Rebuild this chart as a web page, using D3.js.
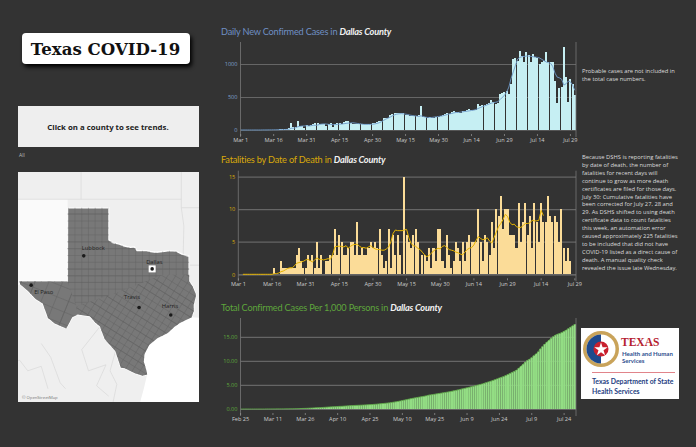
<!DOCTYPE html>
<html>
<head>
<meta charset="utf-8">
<title>Texas COVID-19</title>
<script src="https://cdn.jsdelivr.net/npm/d3@7"></script>
<style>
  html, body { margin: 0; background: #333; overflow: hidden; }
  text { font-family: "Open Sans", sans-serif; }
</style>
</head>
<body>
<svg id="chart" width="696" height="447"></svg>
<script>
// daily new cases, Mar 1 - Jul 31
const casesDaily = [
  0,0,0,0,0,0,0,0,1,1,1,2,2,3,3,4,5,6,8,10,12,20,35,100,40,45,135,55,65,25,70,
  60,70,85,100,105,95,90,95,55,90,100,50,95,110,100,90,125,130,130,100,95,90,85,85,85,85,85,85,95,100,
  105,115,130,140,175,180,180,225,245,250,250,250,250,250,225,225,215,210,205,215,220,365,195,190,185,200,185,185,195,200,205,
  225,245,255,240,270,285,280,275,265,285,290,300,320,300,300,305,390,360,375,385,400,410,450,430,395,410,540,560,570,585,
  550,700,1075,1090,1050,1200,1125,1025,1175,1135,1025,1150,1100,1090,1000,1025,1040,1185,1025,1035,1025,735,410,635,650,1260,800,425,775,700,535
];
const casesAvg = [
  0,0,0,0,0,0,0,0,0,0,1,1,1,2,2,3,3,4,5,6,7,9,12,25,28,33,50,55,60,62,65,
  62,65,72,70,75,85,90,92,90,85,85,80,82,85,90,90,95,100,105,105,110,105,100,95,90,85,85,85,85,88,
  92,100,110,125,145,165,180,195,215,230,240,245,248,245,240,235,225,220,215,210,205,215,205,195,190,190,190,195,200,205,210,
  215,225,235,245,250,260,265,265,270,275,280,285,290,295,300,310,325,340,355,365,380,395,405,415,420,430,460,495,525,575,
  650,780,880,980,1075,1100,1110,1115,1120,1120,1115,1110,1105,1100,1090,1070,1050,1030,1020,1010,960,860,800,790,770,680,700,740,730,680,600
];
const casesTicks = [0, 500, 1000];

// fatalities by date of death, Mar 1 - Jul 29
const deathsDaily = [
  0,0,0,0,0,0,0,0,0,0,0,0,0,0,0,0,1,0,0,2,1,1,1,1,1,1,3,4,2,1,1,
  3,2,3,1,5,1,3,0,2,2,3,3,7,3,6,5,3,3,4,5,5,3,8,3,4,3,3,4,5,4,
  5,4,7,3,1,2,7,1,6,3,6,3,0,15,6,5,4,6,7,5,0,3,3,2,4,1,4,2,7,7,2,
  1,6,3,1,2,5,4,2,5,2,5,6,5,5,5,10,5,2,6,5,3,8,4,10,9,12,7,10,10,6,
  6,6,4,11,5,8,11,6,9,4,11,8,5,11,8,8,12,9,8,9,8,5,10,4,2,4,2,0,0
];
const deathsAvg = [
  null,null,0,0,0,0,0,0,0,0,0,0,0,0,0,0,.1,.1,.2,.4,.5,.7,.9,1,1,1.3,1.7,1.8,1.9,2,2.2,
  2.3,2.1,1.9,2.2,2.5,2.3,2.3,2.2,2.3,2.4,2.3,3,4.2,4.3,4.3,4.3,4.2,4.4,4,4.3,4.5,4.6,4.6,4.3,4.1,4.1,4,4.2,4.4,4.1,
  3.9,3.8,3.8,3.7,3.7,3.9,4.2,5,6.3,6.8,6.7,6.7,6.7,6.8,6.9,5.6,4.7,4.4,4.3,4,3.8,3.4,3,2.7,2.9,3.2,3.6,3.8,4,3.9,4.3,
  4.4,4.1,3.8,3.7,3.6,3.4,3.3,3.1,3,3.4,3.8,4,4.1,4.5,5.2,5.8,5.5,5.3,5.4,5.6,5.1,4.8,5.6,6.5,7.3,7.8,8.4,9.2,8.9,8,
  7.6,7.7,7.3,7.2,7.2,7.5,7.8,7.8,7.9,8.3,8.2,8.2,8.3,9.8,9
];
const deathsTicks = [0, 5, 10, 15];

// total cases per 1,000 persons, Feb 25 - Jul 29
const totalPer1000 = [
  0,0,0,0,0,
  0,0,0,0,0,0,0,.01,.01,.01,.01,.01,.02,.02,.02,.02,.03,.03,.04,.04,.05,.06,.07,.1,.12,.13,.15,.18,.2,.22,.25,
  .27,.29,.32,.35,.38,.41,.44,.47,.49,.52,.55,.56,.6,.63,.66,.7,.72,.74,.76,.78,.8,.83,.85,.88,.9,.93,.97,1,1.05,1.1,
  1.14,1.18,1.23,1.28,1.35,1.42,1.49,1.57,1.66,1.76,1.85,1.95,2.05,2.14,2.23,2.32,2.4,2.48,2.56,2.64,2.72,2.86,2.93,3,3.07,3.15,3.22,3.29,3.37,3.44,3.52,
  3.6,3.69,3.79,3.88,3.98,4.09,4.2,4.3,4.4,4.51,4.62,4.73,4.85,4.97,5.08,5.2,5.35,5.49,5.63,5.78,5.93,6.09,6.26,6.45,6.6,6.76,6.97,7.18,7.4,7.62,
  7.83,8.1,8.5,8.92,9.3,9.75,10.1,10.35,10.7,11.1,11.45,11.9,12.5,13,13.5,13.9,14.3,14.7,15.05,15.35,15.55,15.7,15.9,16.15,16.4,16.7,17,17.3,17.6
];
const totalTicks = [0, 5, 10, 15];

// rough outline of the state and the places labelled on the map, lon/lat
const texasOutline = [
  [-106.62,32],[-103.06,32],[-103.04,36.5],[-100,36.5],[-100,34.56],[-99.7,34.4],[-99.2,34.3],[-98.9,34.2],[-98.4,34.1],
  [-98.1,34.13],[-97.9,33.9],[-97.2,33.9],[-96.9,33.85],[-96.5,33.8],[-96,33.85],[-95.5,33.9],[-95,33.87],[-94.5,33.65],
  [-94.04,33.55],[-94.04,32],[-93.8,31.7],[-93.55,31.2],[-93.55,31],[-93.7,30.5],[-93.7,30.1],[-93.85,29.7],[-94.7,29.35],
  [-95.1,29.1],[-95.6,28.7],[-96.4,28.35],[-97,27.9],[-97.35,27.3],[-97.4,26.8],[-97.2,26.2],[-97.15,25.96],[-97.5,25.87],
  [-98.1,26.05],[-98.8,26.37],[-99.1,26.4],[-99.5,27.5],[-100.3,28.3],[-100.65,29.1],[-101,29.37],[-101.4,29.77],[-102.3,29.88],
  [-102.7,29.7],[-103.15,28.98],[-104,29.3],[-104.5,29.65],[-104.9,30.6],[-105.4,30.85],[-106,31.4],[-106.53,31.78]
];
const gulfOutline = [
  [-93.85,29.7],[-94.7,29.35],[-95.1,29.1],[-95.6,28.7],[-96.4,28.35],[-97,27.9],[-97.35,27.3],[-97.4,26.8],[-97.2,26.2],
  [-97.15,25.96],[-97.4,25],[-97.7,24],[-88,24],[-88,29.75],[-92,29.6]
];
const newMexico = [[-103.04,37],[-103.04,32],[-106.62,32],[-106.53,31.78],[-109.6,31.4],[-109.6,37]];
const borderLines = [
  [[-109.6,37],[-94.62,37]],
  [[-102.05,37],[-102.05,40]],
  [[-94.62,40],[-94.62,36.5],[-94.43,35.4],[-94.48,33.64]],
  [[-94.04,33],[-91,33]],
  [[-94.62,36.5],[-91,36.5]],
  [[-105,28],[-104.3,27.1],[-103.6,25.4],[-103.2,25]],
  [[-109,27.1],[-107.8,26.6],[-106.6,26.9],[-106,26.2],[-105,26.5],[-104.5,25]],
  [[-100.65,29.1],[-102,27.6],[-101.5,26.2],[-100.2,26.6],[-100.9,25.2],[-100,24.5]],
  [[-99.5,27.5],[-99.9,26.2],[-99.4,25.3],[-99.7,24]]
];
const coastalCounties = [[-102.4,30.4],[-99,31.4],[-96,32.4],[-93,32.4],[-93,25],[-102.4,25]];
const transPecos = [[-107,32],[-103.06,32],[-102.4,30.4],[-102.4,28],[-107,28]];
const places = [
  { name: "Lubbock", lon: -101.85, lat: 33.58, dx: -2, dy: -5.5 },
  { name: "Dallas", lon: -96.78, lat: 32.77, dx: -6, dy: -5 },
  { name: "Travis", lon: -97.75, lat: 30.33, dx: -15, dy: -9 },
  { name: "Harris", lon: -95.4, lat: 29.85, dx: -9, dy: -7.5 },
  { name: "El Paso", lon: -105.75, lat: 31.75, dx: 3, dy: 9 }
];

const probableNote = ["Probable cases are not included in", "the total case numbers."];
const fatalityNote = [
  "Because DSHS is reporting fatalities",
  "by date of death, the number of",
  "fatalities for recent days will",
  "continue to grow as more death",
  "certificates are filed for those days.",
  "July 30: Cumulative fatalities have",
  "been corrected for July 27, 28 and",
  "29. As DSHS shifted to using death",
  "certificate data to count fatalities",
  "this week, an automation error",
  "caused approximately 225 fatalities",
  "to be included that did not have",
  "COVID-19 listed as a direct cause of",
  "death. A manual quality check",
  "revealed the issue late Wednesday."
];

const svg = d3.select('#chart');
const tickDay = d3.timeFormat('%b %-d');

// one bar panel; start is the first date, every 15th day gets a label
const drawPanel = (opts) => {
  const dates = opts.values.map((v, i) => d3.timeDay.offset(opts.start, i));
  const xScale = d3.scaleBand().domain(dates).range([opts.left, opts.right]).padding(opts.pad);
  const yScale = d3.scaleLinear().domain([0, opts.yMax]).range([opts.zero, opts.top]);
  const g = svg.append('g');

  g.append('text').attr('x', 221).attr('y', opts.titleY)
    .attr('font-size', 9.2).attr('letter-spacing', -0.2).attr('fill', opts.titleColor)
    .style('font-family', 'Lato, sans-serif')
    .text(opts.title)
    .append('tspan').attr('fill', '#f2f2f2').attr('font-weight', 700).attr('font-style', 'italic')
    .text('Dallas County');

  const yAxis = d3.axisLeft(yScale).tickValues(opts.ticks).tickFormat(d3.format(opts.fmt))
    .tickSize(-(opts.right - opts.axisX)).tickPadding(3);
  const yG = g.append('g').attr('transform', `translate(${opts.axisX},0)`).call(yAxis);
  yG.select('.domain').remove();
  yG.selectAll('line').attr('stroke', '#666').attr('stroke-width', 1.2);
  yG.selectAll('text').attr('fill', opts.tickColor).attr('font-size', 5.6).attr('font-family', '"Open Sans"');
  yG.selectAll('.tick').filter(d => d === 0).select('line').attr('stroke', opts.baseColor);

  g.selectAll('.bar').data(opts.values).enter().append('rect')
    .attr('x', (d, i) => xScale(dates[i]))
    .attr('y', d => yScale(d))
    .attr('width', xScale.bandwidth())
    .attr('height', d => opts.zero - yScale(d))
    .attr('fill', opts.barColor)
    .attr('shape-rendering', opts.crisp ? 'crispEdges' : 'auto');

  if (opts.line) {
    const line = d3.line()
      .defined(d => d !== null)
      .x((d, i) => xScale(dates[i]) + xScale.bandwidth() / 2)
      .y(d => yScale(d));
    g.append('path').attr('d', line(opts.line)).attr('fill', 'none')
      .attr('stroke', opts.lineColor).attr('stroke-width', opts.lineWidth);
  }

  // left and right rules
  [opts.axisX, opts.right].forEach(x => {
    g.append('line').attr('x1', x).attr('x2', x).attr('y1', opts.top).attr('y2', opts.zero + 7)
      .attr('stroke', '#777').attr('stroke-width', 0.8);
  });

  const xAxis = d3.axisBottom(xScale).tickValues(dates.filter((d, i) => i % 15 === 0))
    .tickFormat(tickDay).tickSize(2).tickPadding(2);
  const xG = g.append('g').attr('transform', `translate(0,${opts.zero + 4})`).call(xAxis);
  xG.select('.domain').remove();
  xG.selectAll('line').attr('stroke', '#999').attr('stroke-width', 0.7);
  xG.selectAll('text').attr('fill', '#ccc').attr('font-size', 5.6).attr('font-family', '"Open Sans"');
};

drawPanel({
  title: 'Daily New Confirmed Cases in ', titleY: 35, titleColor: '#6f8fc4',
  values: casesDaily, line: casesAvg, start: new Date(2020, 2, 1),
  left: 239.5, right: 576, axisX: 240.5, top: 42, zero: 130, yMax: 1333, pad: 0.08, crisp: true,
  ticks: casesTicks, fmt: 'd', tickColor: '#7f9fca', baseColor: '#555',
  barColor: '#c6eff3', lineColor: '#6f9bc9', lineWidth: 0.9
});
drawPanel({
  title: 'Fatalities by Date of Death in ', titleY: 163, titleColor: '#d9a90a',
  values: deathsDaily, line: deathsAvg, start: new Date(2020, 2, 1),
  left: 237.2, right: 576, axisX: 238.3, top: 170.7, zero: 274.3, yMax: 15.9, pad: 0.08, crisp: true,
  ticks: deathsTicks, fmt: 'd', tickColor: '#d9a90a', baseColor: '#777',
  barColor: '#fbdc98', lineColor: '#e6b400', lineWidth: 1
});
drawPanel({
  title: 'Total Confirmed Cases Per 1,000 Persons in ', titleY: 311, titleColor: '#5ea53c',
  values: totalPer1000, line: totalPer1000, start: new Date(2020, 1, 25),
  left: 239.5, right: 576, axisX: 240.5, top: 318, zero: 409, yMax: 18.9, pad: 0.02, crisp: false,
  ticks: totalTicks, fmt: '.2f', tickColor: '#5ea53c', baseColor: '#666',
  barColor: '#93dd84', lineColor: '#62b04a', lineWidth: 0.8
});

// notes on the right
const writeNote = (lines, y0, step) => {
  svg.append('g').selectAll('text').data(lines).enter().append('text')
    .attr('x', 582).attr('y', (d, i) => y0 + i * step)
    .attr('font-size', 5.8).attr('fill', '#ddd').text(d => d);
};
writeNote(probableNote, 73, 8);
writeNote(fatalityNote, 159, 7.9);

// headline box
svg.append('rect').attr('x', 22).attr('y', 33).attr('width', 168).attr('height', 31).attr('rx', 4)
  .attr('fill', '#fff').style('filter', 'drop-shadow(2px 3px 2px #000)');
svg.append('text').attr('x', 105.5).attr('y', 55).attr('text-anchor', 'middle')
  .attr('font-size', 16.6).attr('font-weight', 700).attr('fill', '#111')
  .style('font-family', '"DejaVu Serif", serif').text('Texas COVID-19');

// county prompt
svg.append('rect').attr('x', 18).attr('y', 106).attr('width', 181).attr('height', 41).attr('fill', '#eee');
svg.append('text').attr('x', 108).attr('y', 130).attr('text-anchor', 'middle')
  .attr('font-size', 7.8).attr('font-weight', 700).attr('fill', '#222').text('Click on a county to see trends.');
svg.append('text').attr('x', 19).attr('y', 157).attr('font-size', 5).attr('fill', '#bbb').text('All');

// map
const projection = d3.geoMercator().scale(773).center([-103.04, 36.5]).translate([67.7, 207.7]);
const polyPath = pts => d3.line()(pts.map(projection)) + 'Z';
const geoPath = d3.geoPath(projection);
const defs = svg.append('defs');
defs.append('clipPath').attr('id', 'map-clip').append('rect')
  .attr('x', 18).attr('y', 172).attr('width', 181).attr('height', 230);
defs.append('clipPath').attr('id', 'texas-clip').append('path').attr('d', polyPath(texasOutline));
defs.append('clipPath').attr('id', 'coast-clip').append('path').attr('d', polyPath(coastalCounties));
defs.append('clipPath').attr('id', 'pecos-clip').append('path').attr('d', polyPath(transPecos));

const map = svg.append('g').attr('clip-path', 'url(#map-clip)');
map.append('rect').attr('x', 18).attr('y', 172).attr('width', 181).attr('height', 230).attr('fill', '#efefef');
map.append('path').attr('d', polyPath(newMexico)).attr('fill', '#fafafa');
map.append('path').attr('d', polyPath(gulfOutline)).attr('fill', '#fff');
map.selectAll('.border').data(borderLines).enter().append('path')
  .attr('d', d => d3.line()(d.map(projection))).attr('fill', 'none').attr('stroke', '#d8d8d8').attr('stroke-width', 0.7);
map.append('path').attr('d', polyPath(texasOutline)).attr('fill', '#787878').attr('stroke', '#fff').attr('stroke-width', 1.4);

const counties = map.append('g').attr('clip-path', 'url(#texas-clip)');
const gridLines = (parent, step, angle) => parent.append('path')
  .attr('d', geoPath(d3.geoGraticule().extent([[-108, 24], [-92, 38]]).step(step)()))
  .attr('fill', 'none').attr('stroke', '#626262').attr('stroke-width', 0.4)
  .attr('transform', `rotate(${angle} 130 300)`);
gridLines(counties, [0.5, 0.42], 0);
const coast = counties.append('g').attr('clip-path', 'url(#coast-clip)');
coast.append('rect').attr('x', 18).attr('y', 172).attr('width', 181).attr('height', 230).attr('fill', '#787878');
gridLines(coast, [0.5, 0.42], 32);
const pecos = counties.append('g').attr('clip-path', 'url(#pecos-clip)');
pecos.append('rect').attr('x', 18).attr('y', 172).attr('width', 181).attr('height', 230).attr('fill', '#787878');
gridLines(pecos, [0.95, 0.75], 22);

const dallas = projection([-96.78, 32.77]);
map.append('rect').attr('x', dallas[0] - 3.5).attr('y', dallas[1] - 3.5).attr('width', 7).attr('height', 7).attr('fill', '#fff');
places.forEach(p => {
  const [px, py] = projection([p.lon, p.lat]);
  map.append('circle').attr('cx', px).attr('cy', py).attr('r', 1.8).attr('fill', '#1a1a1a');
  map.append('text').attr('x', px + p.dx).attr('y', py + p.dy).attr('font-size', 5.8).attr('fill', '#222').text(p.name);
});
map.append('text').attr('x', 22).attr('y', 399).attr('font-size', 4.2).attr('fill', '#777').text('© OpenStreetMap');

// state health department logo
const logo = svg.append('g');
logo.append('rect').attr('x', 581).attr('y', 328).attr('width', 98).attr('height', 71).attr('fill', '#fff');
logo.append('circle').attr('cx', 601).attr('cy', 349).attr('r', 18).attr('fill', '#c9a35a');
logo.append('circle').attr('cx', 601).attr('cy', 349).attr('r', 14.5).attr('fill', '#fff');
logo.append('path').attr('transform', 'translate(601,349)')
  .attr('d', d3.arc().innerRadius(0).outerRadius(14.5).startAngle(Math.PI).endAngle(2 * Math.PI)()).attr('fill', '#1f4a8c');
logo.append('circle').attr('cx', 601).attr('cy', 349).attr('r', 7.5).attr('fill', '#c8202f');
logo.append('path').attr('transform', 'translate(601,349.5)')
  .attr('d', d3.symbol().type(d3.symbolStar).size(55)()).attr('fill', '#fff');
logo.append('text').attr('x', 621).attr('y', 345.5).attr('font-size', 11.5).attr('font-weight', 700)
  .attr('fill', '#b5202e').style('font-family', '"Liberation Serif", serif').text('TEXAS');
[['Health and Human', 355.5], ['Services', 363]].forEach(d => {
  logo.append('text').attr('x', 622).attr('y', d[1]).attr('font-size', 6.1).attr('font-weight', 700)
    .attr('fill', '#2e4f8f').style('font-family', 'Lato, sans-serif').text(d[0]);
});
logo.append('line').attr('x1', 592).attr('x2', 675).attr('y1', 372.5).attr('y2', 372.5)
  .attr('stroke', '#d9646c').attr('stroke-width', 0.8);
[['Texas Department of State', 384], ['Health Services', 394]].forEach(d => {
  logo.append('text').attr('x', 592).attr('y', d[1]).attr('font-size', 6.9).attr('font-weight', 700)
    .attr('fill', '#24407f').style('font-family', 'Lato, sans-serif').text(d[0]);
});
</script>
</body>
</html>
